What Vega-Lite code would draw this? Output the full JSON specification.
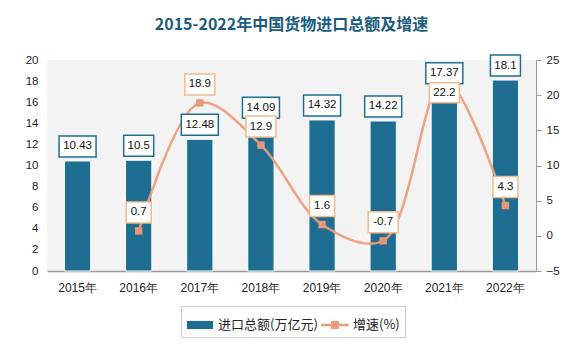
{
  "$schema": "https://vega.github.io/schema/vega-lite/v6.json",
  "autosize": "none",
  "width": 489,
  "height": 211,
  "padding": {"left": 47, "top": 60, "right": 47, "bottom": 81},
  "background": "#ffffff",
  "title": {
    "text": "2015-2022年中国货物进口总额及增速",
    "fontSize": 16,
    "fontWeight": "bold",
    "font": "Noto Sans CJK SC",
    "color": "#1b5b7d",
    "anchor": "middle",
    "offset": 19
  },
  "config": {
    "view": {"fill": "#f3f3f3", "stroke": null},
    "axis": {"labelFont": "Liberation Sans", "labelFontSize": 11.5, "labelColor": "#222222", "grid": false, "title": null}
  },
  "data": {
    "values": [
      {"year": "2015年", "import": 10.43, "growth": null},
      {"year": "2016年", "import": 10.5, "growth": 0.7},
      {"year": "2017年", "import": 12.48, "growth": 18.9},
      {"year": "2018年", "import": 14.09, "growth": 12.9},
      {"year": "2019年", "import": 14.32, "growth": 1.6},
      {"year": "2020年", "import": 14.22, "growth": -0.7},
      {"year": "2021年", "import": 17.37, "growth": 22.2},
      {"year": "2022年", "import": 18.1, "growth": 4.3}
    ]
  },
  "encoding": {
    "x": {
      "field": "year",
      "type": "ordinal",
      "sort": null,
      "scale": {"paddingInner": 0, "paddingOuter": 0},
      "axis": {"labelAngle": 0, "ticks": false, "domainColor": "#999999", "domainWidth": 1.5, "labelPadding": 11, "labelFontSize": 12}
    }
  },
  "layer": [
    {
      "mark": {"type": "bar", "width": {"band": 0.43}, "stroke": "#ffffff", "strokeWidth": 1},
      "encoding": {
        "y": {"field": "import", "type": "quantitative", "scale": {"domain": [0, 20]}, "axis": {"orient": "left", "values": [0,2,4,6,8,10,12,14,16,18,20], "domain": false, "ticks": false, "labelPadding": 9}},
        "color": {
          "datum": "进口总额(万亿元)",
          "scale": {"domain": ["进口总额(万亿元)", "增速(%)"], "range": ["#1d6e91", "#eb9d7c"]},
          "legend": {
            "title": null,
            "orient": "none",
            "legendX": 134,
            "legendY": 246,
            "direction": "horizontal",
            "padding": 5,
            "strokeColor": "#cccccc",
            "fillColor": "#ffffff",
            "labelFont": "Noto Sans CJK SC",
            "labelFontSize": 13,
            "labelColor": "#222222",
            "labelOffset": 4,
            "columnPadding": 3,
            "symbolSize": 784,
            "symbolStrokeWidth": 0,
            "symbolType": {"expr": "datum.value === '增速(%)' ? 'M-1,-0.09H0.8V0.09H-1Z M-0.28,-0.28H0.28V0.28H-0.28Z M0.72,0L0.86,-0.14L1,0L0.86,0.14Z' : 'M-0.93,-0.29H0.93V0.29H-0.93Z'"}
          }
        }
      }
    },
    {
      "transform": [{"filter": "isValid(datum.growth)"}],
      "mark": {"type": "line", "interpolate": "catmull-rom", "strokeWidth": 2.5, "opacity": 0.95},
      "encoding": {
        "y": {"field": "growth", "type": "quantitative", "scale": {"domain": [-5, 25]}, "axis": {"orient": "right", "values": [-5,0,5,10,15,20,25], "domainColor": "#999999", "tickColor": "#999999", "tickSize": 5, "labelPadding": 5}},
        "color": {"datum": "增速(%)"}
      }
    },
    {
      "transform": [{"filter": "isValid(datum.growth)"}],
      "mark": {"type": "point", "shape": "square", "filled": true, "size": 55, "color": "#e8987a", "opacity": 1},
      "encoding": {
        "y": {"field": "growth", "type": "quantitative", "scale": {"domain": [-5, 25]}, "axis": null}
      }
    },
    {
      "transform": [{"calculate": "length('' + datum.import)", "as": "len"}],
      "mark": {"type": "point", "filled": true, "fill": "#ffffff", "stroke": "#1d6e91", "strokeWidth": 1.5, "size": 400, "opacity": 1, "fillOpacity": 1},
      "encoding": {
        "y": {"field": "import", "type": "quantitative", "scale": {"domain": [0, 20]}, "axis": null},
        "shape": {
          "field": "len",
          "type": "ordinal",
          "scale": {"domain": [3, 4, 5], "range": ["M-1.25,-2.5H1.25V-0.4H-1.25Z", "M-1.5,-2.5H1.5V-0.4H-1.5Z", "M-1.85,-2.5H1.85V-0.4H-1.85Z"]},
          "legend": null
        }
      }
    },
    {
      "mark": {"type": "text", "dy": -14.5, "baseline": "middle", "font": "Liberation Sans", "fontSize": 11.5, "color": "#111111"},
      "encoding": {
        "y": {"field": "import", "type": "quantitative", "scale": {"domain": [0, 20]}, "axis": null},
        "text": {"field": "import", "type": "nominal"}
      }
    },
    {
      "transform": [{"filter": "isValid(datum.growth) && datum.year !== '2021年'"}, {"calculate": "length('' + datum.growth)", "as": "len"}],
      "mark": {"type": "point", "filled": true, "fill": "#ffffff", "stroke": "#f5b98c", "strokeWidth": 1.5, "size": 400, "opacity": 1, "fillOpacity": 1},
      "encoding": {
        "y": {"field": "growth", "type": "quantitative", "scale": {"domain": [-5, 25]}, "axis": null},
        "shape": {
          "field": "len",
          "type": "ordinal",
          "scale": {"domain": [3, 4, 5], "range": ["M-1.25,-2.9H1.25V-0.8H-1.25Z", "M-1.5,-2.9H1.5V-0.8H-1.5Z", "M-1.85,-2.9H1.85V-0.8H-1.85Z"]},
          "legend": null
        }
      }
    },
    {
      "transform": [{"filter": "datum.year === '2021年'"}, {"calculate": "length('' + datum.growth)", "as": "len"}],
      "mark": {"type": "point", "filled": true, "fill": "#ffffff", "stroke": "#f5b98c", "strokeWidth": 1.5, "size": 400, "opacity": 1, "fillOpacity": 1},
      "encoding": {
        "y": {"field": "growth", "type": "quantitative", "scale": {"domain": [-5, 25]}, "axis": null},
        "shape": {
          "field": "len",
          "type": "ordinal",
          "scale": {"domain": [3, 4, 5], "range": ["M-1.25,0.3H1.25V2.3H-1.25Z", "M-1.5,0.3H1.5V2.3H-1.5Z", "M-1.85,0.3H1.85V2.3H-1.85Z"]},
          "legend": null
        }
      }
    },
    {
      "transform": [{"filter": "isValid(datum.growth) && datum.year !== '2021年'"}],
      "mark": {"type": "text", "dy": -18.5, "baseline": "middle", "font": "Liberation Sans", "fontSize": 11.5, "color": "#111111"},
      "encoding": {
        "y": {"field": "growth", "type": "quantitative", "scale": {"domain": [-5, 25]}, "axis": null},
        "text": {"field": "growth", "type": "nominal"}
      }
    },
    {
      "transform": [{"filter": "datum.year === '2021年'"}],
      "mark": {"type": "text", "dy": 13, "baseline": "middle", "font": "Liberation Sans", "fontSize": 11.5, "color": "#111111"},
      "encoding": {
        "y": {"field": "growth", "type": "quantitative", "scale": {"domain": [-5, 25]}, "axis": null},
        "text": {"field": "growth", "type": "nominal"}
      }
    }
  ],
  "resolve": {"scale": {"y": "independent", "shape": "independent"}, "axis": {"y": "independent"}}
}
